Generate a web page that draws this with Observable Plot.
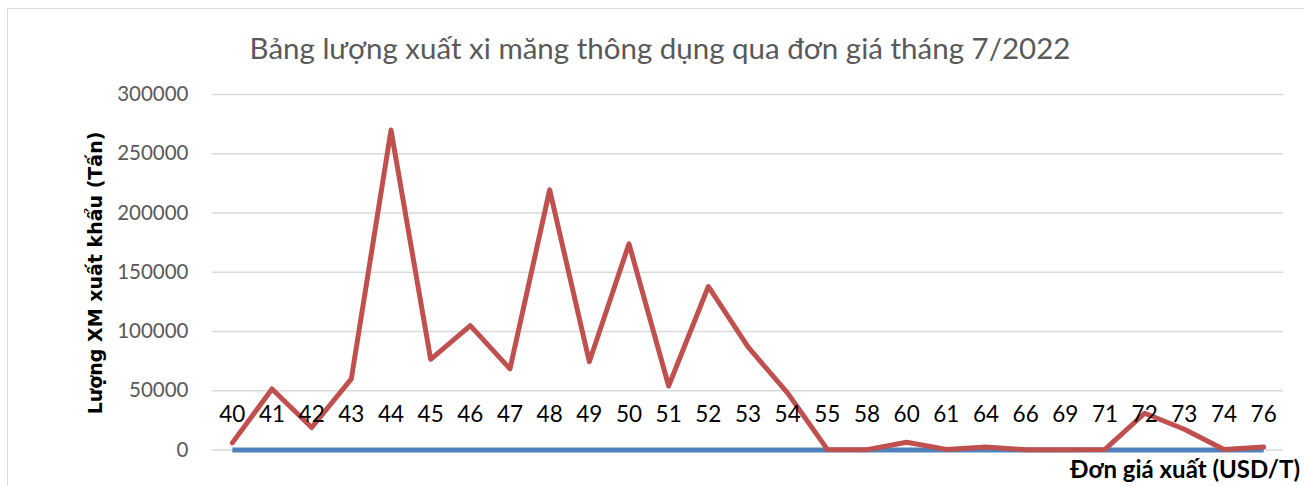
<!DOCTYPE html>
<html>
<head>
<meta charset="utf-8">
<script src="https://cdn.jsdelivr.net/npm/d3@7"></script>
<script src="https://cdn.jsdelivr.net/npm/@observablehq/plot@0.6"></script>
<style>
  html, body { margin: 0; padding: 0; background: #fff; }
  #wrap { position: relative; width: 1304px; height: 486px; overflow: hidden; font-family: Lato, "Open Sans", sans-serif; }
  #frame { position: absolute; left: 7px; top: 8px; width: 1400px; height: 600px; border: 1.5px solid #d9d9d9; box-sizing: border-box; }
  #title { position: absolute; left: 8px; width: 1304px; top: 30px; text-align: center; font-size: 29.5px; color: #595959; }
  #chart { position: absolute; left: 0; top: 80px; }
  #ytitle { position: absolute; left: 95px; top: 273px; transform: translate(-50%, -50%) rotate(-90deg); white-space: nowrap; font-family: "DejaVu Sans", sans-serif; font-weight: bold; font-size: 19px; color: #000; }
  #xtitle { position: absolute; right: 4px; top: 454px; white-space: nowrap; font-weight: bold; font-size: 24px; color: #000; }
</style>
</head>
<body>
<div id="wrap">
  <div id="frame"></div>
  <div id="title">Bảng lượng xuất xi măng thông dụng qua đơn giá tháng 7/2022</div>
  <div id="chart"></div>
  <div id="ytitle">Lượng XM xuất khẩu (Tấn)</div>
  <div id="xtitle">Đơn giá xuất (USD/T)</div>
</div>
<script>
const prices = ["40","41","42","43","44","45","46","47","48","49","50","51","52","53","54","55","58","60","61","64","66","69","71","72","73","74","76"];
const volumes = [6000,51500,19000,60000,270000,76500,105000,68500,219500,74500,174000,54000,138000,87000,48000,500,300,6500,500,2500,300,300,500,31000,17500,500,2500];
const yTicks = [0,50000,100000,150000,200000,250000,300000];

const priceSeries = prices.map(p => ({price: p, value: +p}));
const volumeSeries = prices.map((p, i) => ({price: p, value: volumes[i]}));

const chart = Plot.plot({
  width: 1304,
  height: 406,
  marginTop: 14,
  marginBottom: 36.5,
  marginLeft: 212,
  marginRight: 21,
  style: {fontFamily: "Lato, 'Open Sans', sans-serif", background: "transparent"},
  x: {type: "point", domain: prices, padding: 0.5, round: false, axis: null},
  y: {domain: [0, 300000], ticks: yTicks, tickFormat: d => String(d), tickSize: 0, tickPadding: 24, label: null},
  marks: [
    Plot.ruleY(yTicks, {stroke: "#d9d9d9", strokeWidth: 1.5}),
    Plot.axisY(yTicks, {tickSize: 0, tickPadding: 24, tickFormat: d => String(d), fontSize: 20.5, fill: "#595959", label: null}),
    Plot.line(priceSeries, {x: "price", y: "value", stroke: "#4F81BD", strokeWidth: 5, strokeLinecap: "butt"}),
    Plot.line(volumeSeries, {x: "price", y: "value", stroke: "#C0504D", strokeWidth: 5, strokeLinejoin: "round", strokeLinecap: "round"}),
    Plot.text(priceSeries, {x: "price", y: 0, text: "price", dy: -35, fontSize: 22.5, fill: "#000"})
  ]
});
document.getElementById("chart").appendChild(chart);
</script>
</body>
</html>
